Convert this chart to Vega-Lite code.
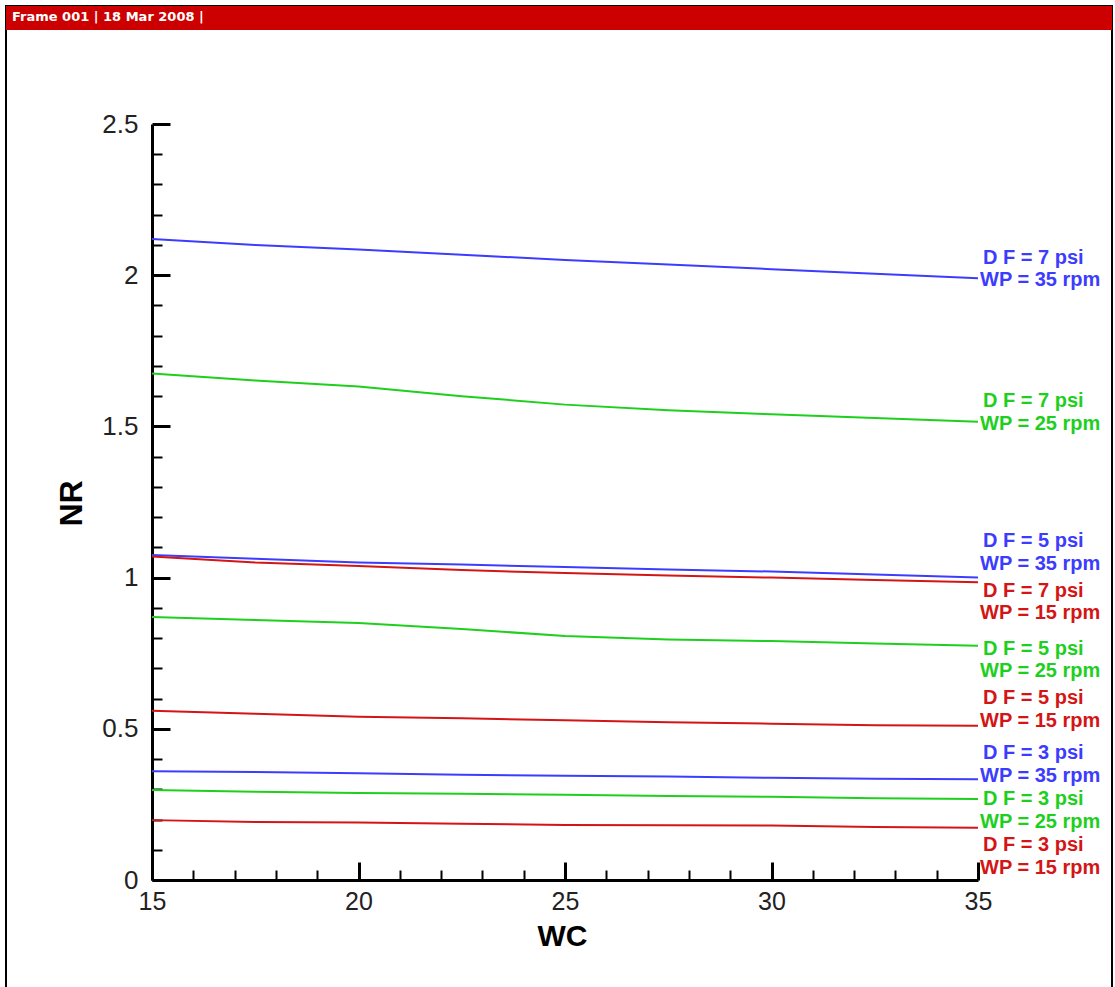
{
  "$schema": "https://vega.github.io/schema/vega-lite/v6.json",
  "width": 1106,
  "height": 981,
  "autosize": {"type": "none"},
  "padding": {"left": 6, "top": 6, "right": 3, "bottom": 0},
  "background": "white",
  "config": {"view": {"stroke": null}, "font": "Liberation Sans"},
  "datasets": {
    "lines": [
      {"wc":15,"nr":2.12,"DF":"7","WP":"35"},{"wc":17.5,"nr":2.1,"DF":"7","WP":"35"},{"wc":20,"nr":2.085,"DF":"7","WP":"35"},{"wc":22.5,"nr":2.068,"DF":"7","WP":"35"},{"wc":25,"nr":2.05,"DF":"7","WP":"35"},{"wc":27.5,"nr":2.035,"DF":"7","WP":"35"},{"wc":30,"nr":2.02,"DF":"7","WP":"35"},{"wc":32.5,"nr":2.005,"DF":"7","WP":"35"},{"wc":35,"nr":1.99,"DF":"7","WP":"35"},
      {"wc":15,"nr":1.675,"DF":"7","WP":"25"},{"wc":17.5,"nr":1.652,"DF":"7","WP":"25"},{"wc":20,"nr":1.632,"DF":"7","WP":"25"},{"wc":22.5,"nr":1.6,"DF":"7","WP":"25"},{"wc":25,"nr":1.572,"DF":"7","WP":"25"},{"wc":27.5,"nr":1.553,"DF":"7","WP":"25"},{"wc":30,"nr":1.54,"DF":"7","WP":"25"},{"wc":32.5,"nr":1.528,"DF":"7","WP":"25"},{"wc":35,"nr":1.515,"DF":"7","WP":"25"},
      {"wc":15,"nr":1.075,"DF":"5","WP":"35"},{"wc":17.5,"nr":1.062,"DF":"5","WP":"35"},{"wc":20,"nr":1.05,"DF":"5","WP":"35"},{"wc":22.5,"nr":1.043,"DF":"5","WP":"35"},{"wc":25,"nr":1.035,"DF":"5","WP":"35"},{"wc":27.5,"nr":1.027,"DF":"5","WP":"35"},{"wc":30,"nr":1.02,"DF":"5","WP":"35"},{"wc":32.5,"nr":1.01,"DF":"5","WP":"35"},{"wc":35,"nr":1.0,"DF":"5","WP":"35"},
      {"wc":15,"nr":1.07,"DF":"7","WP":"15"},{"wc":17.5,"nr":1.05,"DF":"7","WP":"15"},{"wc":20,"nr":1.038,"DF":"7","WP":"15"},{"wc":22.5,"nr":1.025,"DF":"7","WP":"15"},{"wc":25,"nr":1.015,"DF":"7","WP":"15"},{"wc":27.5,"nr":1.007,"DF":"7","WP":"15"},{"wc":30,"nr":1.0,"DF":"7","WP":"15"},{"wc":32.5,"nr":0.992,"DF":"7","WP":"15"},{"wc":35,"nr":0.985,"DF":"7","WP":"15"},
      {"wc":15,"nr":0.87,"DF":"5","WP":"25"},{"wc":17.5,"nr":0.86,"DF":"5","WP":"25"},{"wc":20,"nr":0.85,"DF":"5","WP":"25"},{"wc":22.5,"nr":0.83,"DF":"5","WP":"25"},{"wc":25,"nr":0.807,"DF":"5","WP":"25"},{"wc":27.5,"nr":0.795,"DF":"5","WP":"25"},{"wc":30,"nr":0.79,"DF":"5","WP":"25"},{"wc":32.5,"nr":0.782,"DF":"5","WP":"25"},{"wc":35,"nr":0.775,"DF":"5","WP":"25"},
      {"wc":15,"nr":0.56,"DF":"5","WP":"15"},{"wc":17.5,"nr":0.55,"DF":"5","WP":"15"},{"wc":20,"nr":0.54,"DF":"5","WP":"15"},{"wc":22.5,"nr":0.535,"DF":"5","WP":"15"},{"wc":25,"nr":0.528,"DF":"5","WP":"15"},{"wc":27.5,"nr":0.522,"DF":"5","WP":"15"},{"wc":30,"nr":0.517,"DF":"5","WP":"15"},{"wc":32.5,"nr":0.512,"DF":"5","WP":"15"},{"wc":35,"nr":0.51,"DF":"5","WP":"15"},
      {"wc":15,"nr":0.36,"DF":"3","WP":"35"},{"wc":17.5,"nr":0.357,"DF":"3","WP":"35"},{"wc":20,"nr":0.353,"DF":"3","WP":"35"},{"wc":22.5,"nr":0.348,"DF":"3","WP":"35"},{"wc":25,"nr":0.345,"DF":"3","WP":"35"},{"wc":27.5,"nr":0.342,"DF":"3","WP":"35"},{"wc":30,"nr":0.338,"DF":"3","WP":"35"},{"wc":32.5,"nr":0.335,"DF":"3","WP":"35"},{"wc":35,"nr":0.333,"DF":"3","WP":"35"},
      {"wc":15,"nr":0.298,"DF":"3","WP":"25"},{"wc":17.5,"nr":0.292,"DF":"3","WP":"25"},{"wc":20,"nr":0.288,"DF":"3","WP":"25"},{"wc":22.5,"nr":0.285,"DF":"3","WP":"25"},{"wc":25,"nr":0.282,"DF":"3","WP":"25"},{"wc":27.5,"nr":0.278,"DF":"3","WP":"25"},{"wc":30,"nr":0.275,"DF":"3","WP":"25"},{"wc":32.5,"nr":0.27,"DF":"3","WP":"25"},{"wc":35,"nr":0.268,"DF":"3","WP":"25"},
      {"wc":15,"nr":0.198,"DF":"3","WP":"15"},{"wc":17.5,"nr":0.192,"DF":"3","WP":"15"},{"wc":20,"nr":0.19,"DF":"3","WP":"15"},{"wc":22.5,"nr":0.186,"DF":"3","WP":"15"},{"wc":25,"nr":0.182,"DF":"3","WP":"15"},{"wc":27.5,"nr":0.181,"DF":"3","WP":"15"},{"wc":30,"nr":0.18,"DF":"3","WP":"15"},{"wc":32.5,"nr":0.175,"DF":"3","WP":"15"},{"wc":35,"nr":0.173,"DF":"3","WP":"15"}
    ],
    "dflabels": [
      {"x":35,"y":2.057,"text":"D F = 7 psi","WP":"35"},
      {"x":35,"y":1.584,"text":"D F = 7 psi","WP":"25"},
      {"x":35,"y":1.121,"text":"D F = 5 psi","WP":"35"},
      {"x":35,"y":0.956,"text":"D F = 7 psi","WP":"15"},
      {"x":35,"y":0.764,"text":"D F = 5 psi","WP":"25"},
      {"x":35,"y":0.602,"text":"D F = 5 psi","WP":"15"},
      {"x":35,"y":0.42,"text":"D F = 3 psi","WP":"35"},
      {"x":35,"y":0.268,"text":"D F = 3 psi","WP":"25"},
      {"x":35,"y":0.116,"text":"D F = 3 psi","WP":"15"}
    ],
    "wplabels": [
      {"x":35,"y":1.984,"text":"WP = 35 rpm","WP":"35"},
      {"x":35,"y":1.508,"text":"WP = 25 rpm","WP":"25"},
      {"x":35,"y":1.045,"text":"WP = 35 rpm","WP":"35"},
      {"x":35,"y":0.883,"text":"WP = 15 rpm","WP":"15"},
      {"x":35,"y":0.691,"text":"WP = 25 rpm","WP":"25"},
      {"x":35,"y":0.526,"text":"WP = 15 rpm","WP":"15"},
      {"x":35,"y":0.344,"text":"WP = 35 rpm","WP":"35"},
      {"x":35,"y":0.192,"text":"WP = 25 rpm","WP":"25"},
      {"x":35,"y":0.04,"text":"WP = 15 rpm","WP":"15"}
    ],
    "frame": [
      {"x0":0,"x1":1,"y0":-0.02,"y1":1,"hy":0.9755,"ty":0.9888,"title":"Frame 001  |  18 Mar 2008  |"}
    ]
  },
  "layer": [
    {
      "layer": [
        {
          "data": {"name": "lines"},
          "mark": {"type": "line", "strokeWidth": 2},
          "encoding": {
            "x": {"field": "wc", "type": "quantitative",
              "scale": {"domain": [15, 35], "range": [146, 972], "nice": false, "zero": false},
              "axis": {"orient": "bottom", "offset": -107, "values": [15, 20, 25, 30, 35], "format": "~g",
                "tickSize": -18, "tickWidth": 3, "tickColor": "black", "domainColor": "black", "domainWidth": 3,
                "labelPadding": 27, "labelFlush": false, "labelOverlap": false, "labelFont": "Liberation Sans", "labelFontSize": 25, "labelColor": "#222",
                "grid": false, "title": "WC", "titleFont": "Liberation Sans", "titleFontSize": 30, "titleFontWeight": "bold", "titleColor": "black",
                "titleX": 556, "titleY": 56, "titleBaseline": "middle", "titleAlign": "center", "titleAngle": 0}},
            "y": {"field": "nr", "type": "quantitative",
              "scale": {"domain": [0, 2.5], "range": [874, 118], "nice": false, "zero": false},
              "axis": {"orient": "left", "offset": -146, "values": [0, 0.5, 1, 1.5, 2, 2.5], "format": "~g",
                "tickSize": -18, "tickWidth": 3, "tickColor": "black", "domainColor": "black", "domainWidth": 3,
                "labelPadding": 32, "labelFlush": false, "labelOverlap": false, "labelFont": "Liberation Sans", "labelFontSize": 26, "labelColor": "#222",
                "grid": false, "title": "NR", "titleFont": "Liberation Sans", "titleFontSize": 32, "titleFontWeight": "bold", "titleColor": "black",
                "titleX": -81, "titleY": 497, "titleBaseline": "middle", "titleAlign": "center", "titleAngle": -90}},
            "color": {"field": "WP", "type": "nominal", "scale": {"domain": ["15", "25", "35"], "range": ["#d41515", "#1ecf1e", "#3c3cff"]}, "legend": null},
            "detail": {"field": "DF", "type": "nominal"}
          }
        },
        {
          "data": {"name": "dflabels"},
          "mark": {"type": "text", "align": "left", "baseline": "middle", "dx": 5, "fontSize": 20, "fontWeight": "bold", "font": "Liberation Sans"},
          "encoding": {
            "x": {"field": "x", "type": "quantitative",
              "scale": {"domain": [15, 35], "range": [146, 972], "nice": false, "zero": false},
              "axis": {"orient": "bottom", "offset": -107, "values": [16,17,18,19,21,22,23,24,26,27,28,29,31,32,33,34],
                "labels": false, "domain": false, "tickSize": -10, "tickWidth": 2, "tickColor": "black", "grid": false, "title": null}},
            "y": {"field": "y", "type": "quantitative",
              "scale": {"domain": [0, 2.5], "range": [874, 118], "nice": false, "zero": false},
              "axis": {"orient": "left", "offset": -146, "values": [0.1,0.2,0.3,0.4,0.6,0.7,0.8,0.9,1.1,1.2,1.3,1.4,1.6,1.7,1.8,1.9,2.1,2.2,2.3,2.4],
                "labels": false, "domain": false, "tickSize": -10, "tickWidth": 2, "tickColor": "black", "grid": false, "title": null}},
            "text": {"field": "text", "type": "nominal"},
            "color": {"field": "WP", "type": "nominal", "legend": null}
          }
        },
        {
          "data": {"name": "wplabels"},
          "mark": {"type": "text", "align": "left", "baseline": "middle", "dx": 2, "fontSize": 20, "fontWeight": "bold", "font": "Liberation Sans"},
          "encoding": {
            "x": {"field": "x", "type": "quantitative", "scale": {"domain": [15, 35], "range": [146, 972], "nice": false, "zero": false}, "axis": null},
            "y": {"field": "y", "type": "quantitative", "scale": {"domain": [0, 2.5], "range": [874, 118], "nice": false, "zero": false}, "axis": null},
            "text": {"field": "text", "type": "nominal"},
            "color": {"field": "WP", "type": "nominal", "legend": null}
          }
        }
      ],
      "resolve": {"axis": {"x": "independent", "y": "independent"}}
    },
    {
      "data": {"name": "frame"},
      "layer": [
        {
          "mark": {"type": "rect", "fill": null, "fillOpacity": 0, "stroke": "black", "strokeWidth": 2},
          "encoding": {
            "x": {"field": "x0", "type": "quantitative", "scale": {"domain": [0, 1], "nice": false, "zero": false}, "axis": null},
            "x2": {"field": "x1"},
            "y": {"field": "y0", "type": "quantitative", "scale": {"domain": [0, 1], "nice": false, "zero": false}, "axis": null},
            "y2": {"field": "y1"}
          }
        },
        {
          "mark": {"type": "rect", "fill": "#cc0000", "stroke": null},
          "encoding": {
            "x": {"field": "x0", "type": "quantitative", "axis": null},
            "x2": {"field": "x1"},
            "y": {"field": "hy", "type": "quantitative", "axis": null},
            "y2": {"field": "y1"}
          }
        },
        {
          "mark": {"type": "text", "align": "left", "baseline": "middle", "dx": 6, "fontSize": 13, "fontWeight": "bold", "font": "DejaVu Sans", "fill": "white"},
          "encoding": {
            "x": {"field": "x0", "type": "quantitative", "axis": null},
            "y": {"field": "ty", "type": "quantitative", "axis": null},
            "text": {"field": "title", "type": "nominal"}
          }
        }
      ]
    }
  ],
  "resolve": {"scale": {"x": "independent", "y": "independent"}, "axis": {"x": "independent", "y": "independent"}}
}
